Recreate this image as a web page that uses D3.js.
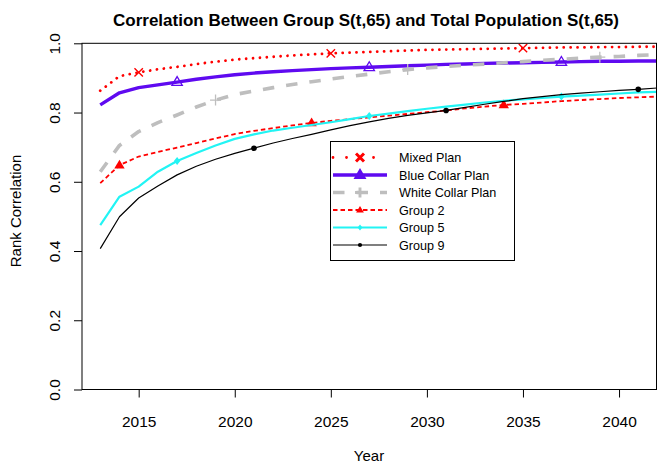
<!DOCTYPE html>
<html>
<head>
<meta charset="utf-8">
<script src="https://cdn.jsdelivr.net/npm/d3@7"></script>
<style>
  html, body { margin: 0; padding: 0; background: #fff; }
  svg { display: block; font-family: "Liberation Sans", Arial, Helvetica, sans-serif; }
</style>
</head>
<body>
<svg id="chart" width="657" height="463"></svg>
<script>
// Projection years
const years = d3.range(2013, 2043);

// Rank correlation of each group's S(t,65) with the total population
const mixedPlan = [0.863, 0.905, 0.916, 0.925, 0.932, 0.940, 0.947, 0.953, 0.957, 0.961,
                   0.965, 0.968, 0.971, 0.973, 0.975, 0.977, 0.979, 0.981, 0.982, 0.983,
                   0.984, 0.985, 0.986, 0.987, 0.988, 0.988, 0.989, 0.989, 0.990, 0.990];
const blueCollar = [0.822, 0.857, 0.872, 0.880, 0.888, 0.896, 0.903, 0.909, 0.914, 0.918,
                    0.921, 0.924, 0.927, 0.929, 0.931, 0.933, 0.935, 0.937, 0.939, 0.940,
                    0.942, 0.943, 0.944, 0.945, 0.946, 0.947, 0.948, 0.948, 0.949, 0.949];
const whiteCollar = [0.629, 0.705, 0.745, 0.771, 0.793, 0.816, 0.836, 0.852, 0.862, 0.872,
                     0.881, 0.889, 0.897, 0.904, 0.911, 0.918, 0.924, 0.929, 0.933, 0.937,
                     0.940, 0.944, 0.947, 0.951, 0.954, 0.957, 0.960, 0.962, 0.965, 0.967];
const group2 = [0.596, 0.648, 0.673, 0.686, 0.699, 0.712, 0.725, 0.738, 0.747, 0.755,
                0.763, 0.770, 0.776, 0.781, 0.786, 0.791, 0.796, 0.801, 0.806, 0.812,
                0.817, 0.822, 0.825, 0.829, 0.833, 0.836, 0.839, 0.842, 0.844, 0.846];
const group5 = [0.475, 0.557, 0.586, 0.629, 0.660, 0.683, 0.705, 0.724, 0.737, 0.748,
                0.756, 0.764, 0.772, 0.781, 0.790, 0.797, 0.804, 0.811, 0.817, 0.823,
                0.829, 0.834, 0.838, 0.842, 0.846, 0.849, 0.852, 0.855, 0.858, 0.860];
const group9 = [0.407, 0.499, 0.553, 0.588, 0.620, 0.645, 0.665, 0.682, 0.697, 0.712,
                0.725, 0.737, 0.750, 0.762, 0.773, 0.783, 0.792, 0.799, 0.806, 0.815,
                0.824, 0.832, 0.840, 0.846, 0.852, 0.856, 0.860, 0.864, 0.867, 0.871];

// Years that carry a plotting symbol on each curve
const mixedMarks = [2015, 2025, 2035];
const blueMarks = [2017, 2027, 2037];
const whiteMarks = [2019, 2029, 2039];
const group2Marks = [2014, 2024, 2034];
const group5Marks = [2017, 2027, 2037];
const group9Marks = [2021, 2031, 2041];

const seriesNames = ["Mixed Plan", "Blue Collar Plan", "White Collar Plan", "Group 2", "Group 5", "Group 9"];
const xTicks = [2015, 2020, 2025, 2030, 2035, 2040];
const yTicks = [0, 0.2, 0.4, 0.6, 0.8, 1.0];

const titleText = "Correlation Between Group S(t,65) and Total Population S(t,65)";
const xLabel = "Year";
const yLabel = "Rank Correlation";

// Plot frame
const frame = { left: 82, right: 656.5, top: 43.3, bottom: 389.5 };

const svg = d3.select("#chart");
const x = d3.scaleLinear().domain([2012.05, 2041.95]).range([frame.left, frame.right]);
const y = d3.scaleLinear().domain([0, 1]).range([frame.bottom, frame.top]);

// Line styles and symbols for each series
const styles = [
  { values: mixedPlan,   marks: mixedMarks,  color: "#ff0000", width: 2.8, dash: "0.01 6.9", cap: "round", sym: "times",    symSize: 4.2, symWidth: 1.4, legScale: 0.95, legBoost: 1.6 },
  { values: blueCollar,  marks: blueMarks,   color: "#5f0af0", width: 3.4, dash: null,      cap: "butt",  sym: "triangleOpen", symSize: 5.2, symWidth: 1.3, legScale: 0.72, legBoost: 1.8 },
  { values: whiteCollar, marks: whiteMarks,  color: "#bebebe", width: 3.6, dash: "11.5 12", cap: "butt",  sym: "plus",     symSize: 5.5, symWidth: 1.3, legScale: 0.9, legBoost: 1.6 },
  { values: group2,      marks: group2Marks, color: "#ff0000", width: 1.8, dash: "4.5 3",   cap: "butt",  sym: "triangle", symSize: 5.2, symWidth: 0, legScale: 0.75, legBoost: 0 },
  { values: group5,      marks: group5Marks, color: "#22f4f4", width: 2.2, dash: null,      cap: "butt",  sym: "diamond",  symSize: 4.0, symWidth: 0, legScale: 0.75, legBoost: 0 },
  { values: group9,      marks: group9Marks, color: "#000000", width: 1.2, dash: null,      cap: "butt",  sym: "dot",      symSize: 2.8, symWidth: 0, legScale: 0.75, legBoost: 0 }
];

function symbolPath(kind, s) {
  switch (kind) {
    case "times": return `M${-s},${-s}L${s},${s}M${-s},${s}L${s},${-s}`;
    case "plus": return `M${-s},0L${s},0M0,${-s}L0,${s}`;
    case "triangleOpen":
    case "triangle": {
      const h = s * 1.7;
      return `M0,${-h * 0.62}L${s},${h * 0.38}L${-s},${h * 0.38}Z`;
    }
    case "diamond": return `M0,${-s}L${s * 0.8},0L0,${s}L${-s * 0.8},0Z`;
    case "dot": return d3.symbol(d3.symbolCircle, Math.PI * s * s)();
  }
}

function drawSymbol(g, st, cx, cy, scale = 1, strokeBoost = 0) {
  const filled = st.sym === "triangle" || st.sym === "diamond" || st.sym === "dot";
  g.append("path")
    .attr("d", symbolPath(st.sym, st.symSize * scale))
    .attr("transform", `translate(${cx},${cy})`)
    .attr("fill", filled ? st.color : "none")
    .attr("stroke", filled ? "none" : st.color)
    .attr("stroke-width", st.symWidth + strokeBoost);
}

// Clip to the plotting frame
svg.append("defs").append("clipPath").attr("id", "plotClip")
  .append("rect")
  .attr("x", frame.left).attr("y", frame.top)
  .attr("width", frame.right - frame.left).attr("height", frame.bottom - frame.top);

const plot = svg.append("g").attr("clip-path", "url(#plotClip)");

const line = d3.line().x((d, i) => x(years[i])).y(d => y(d));

styles.forEach(st => {
  plot.append("path")
    .datum(st.values)
    .attr("d", line)
    .attr("fill", "none")
    .attr("stroke", st.color)
    .attr("stroke-width", st.width)
    .attr("stroke-dasharray", st.dash)
    .attr("stroke-linecap", st.cap)
    .attr("stroke-linejoin", "round");
  st.marks.forEach(yr => {
    const v = st.values[years.indexOf(yr)];
    drawSymbol(plot, st, x(yr), y(v));
  });
});

// Frame
svg.append("rect")
  .attr("x", frame.left).attr("y", frame.top)
  .attr("width", frame.right - frame.left).attr("height", frame.bottom - frame.top)
  .attr("fill", "none").attr("stroke", "#000").attr("stroke-width", 1);

// X axis
const xAxis = svg.append("g")
  .attr("transform", `translate(0,${frame.bottom})`)
  .call(d3.axisBottom(x).tickValues(xTicks).tickFormat(d3.format("d")).tickSize(8).tickPadding(18));
xAxis.select(".domain").remove();
xAxis.selectAll("text").attr("font-size", 15.5).attr("fill", "#000").attr("font-family", null);
xAxis.selectAll("line").attr("stroke", "#000");

// Y axis with rotated labels
const yAxis = svg.append("g")
  .attr("transform", `translate(${frame.left},0)`)
  .call(d3.axisLeft(y).tickValues(yTicks).tickFormat(d3.format(".1f")).tickSize(8));
yAxis.select(".domain").remove();
yAxis.selectAll("line").attr("stroke", "#000");
yAxis.selectAll("text")
  .attr("font-size", 15.5).attr("fill", "#000").attr("font-family", null)
  .attr("x", null).attr("dy", null)
  .attr("text-anchor", "middle")
  .attr("transform", "translate(-22,0) rotate(-90)");

// Titles
svg.append("text")
  .attr("x", 366).attr("y", 26)
  .attr("text-anchor", "middle")
  .attr("font-weight", "bold").attr("font-size", 17)
  .text(titleText);

svg.append("text")
  .attr("x", 369).attr("y", 461)
  .attr("text-anchor", "middle").attr("font-size", 15)
  .text(xLabel);

svg.append("text")
  .attr("transform", "translate(21,211) rotate(-90)")
  .attr("text-anchor", "middle").attr("font-size", 15)
  .text(yLabel);

// Legend
const legend = svg.append("g");
const lg = { x: 330.5, y: 141.5, w: 184, h: 119, rowY: 157.5, rowStep: 17.5, lineX0: 333, lineX1: 387, symX: 360, textX: 399 };
legend.append("rect")
  .attr("x", lg.x).attr("y", lg.y).attr("width", lg.w).attr("height", lg.h)
  .attr("fill", "#fff").attr("stroke", "#000").attr("stroke-width", 1);

styles.forEach((st, i) => {
  const ry = lg.rowY + i * lg.rowStep;
  legend.append("line")
    .attr("x1", lg.lineX0).attr("x2", lg.lineX1).attr("y1", ry).attr("y2", ry)
    .attr("stroke", st.color)
    .attr("stroke-width", st.width)
    .attr("stroke-dasharray", i === 0 ? "0.01 13.5" : st.dash)
    .attr("stroke-linecap", st.cap);
  drawSymbol(legend, st, lg.symX, ry, st.legScale, st.legBoost);
  legend.append("text")
    .attr("x", lg.textX).attr("y", ry + 4.5)
    .attr("font-size", 12.6)
    .text(seriesNames[i]);
});
</script>
</body>
</html>
